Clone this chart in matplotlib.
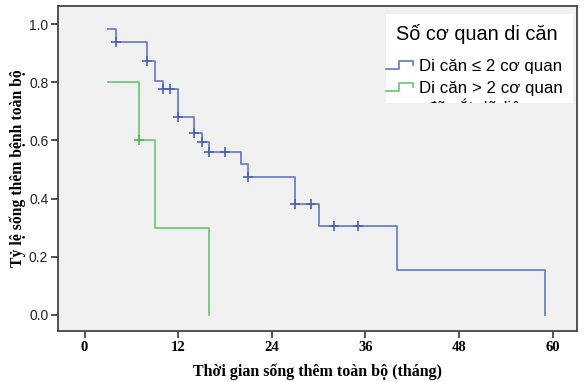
import numpy as np
import matplotlib
matplotlib.use("Agg")
import matplotlib.pyplot as plt
from matplotlib.lines import Line2D
from matplotlib.patches import Rectangle
from matplotlib.transforms import Affine2D

# Kaplan-Meier steps (months, survival proportion)
low_times = [3, 4, 8, 9, 10, 12, 14, 15, 16, 20, 21, 27, 30, 40, 59]
low_surv = [0.982, 0.938, 0.873, 0.804, 0.776, 0.679, 0.624, 0.593, 0.561,
            0.519, 0.475, 0.381, 0.306, 0.153, 0.0]
low_censored = [4, 8, 10, 11, 12, 14, 15, 16, 18, 21, 27, 29, 32, 35]

high_times = [3, 7, 9, 16]
high_surv = [0.8, 0.6, 0.3, 0.0]
high_censored = [7]

legend_title = "Số cơ quan di căn"
group_labels = ["Di căn \u2264 2 cơ quan", "Di căn > 2 cơ quan", "đã cắt dữ liệu"]
x_ticks = [0, 12, 24, 36, 48, 60]
y_ticks = [0.0, 0.2, 0.4, 0.6, 0.8, 1.0]

blue = "#6f80c9"
blue_dark = "#4a5fb8"
green = "#72c87a"
green_dark = "#4fb45a"

W, H = 585, 382
sans = ["Liberation Sans", "DejaVu Sans"]
serif = ["Liberation Serif", "DejaVu Serif"]


def surv_at(times, surv, t):
    i = np.searchsorted(times, t, side="right") - 1
    return surv[i]


fig = plt.figure(figsize=(W / 100, H / 100), dpi=100)
ax = fig.add_axes([58 / W, 1 - 331 / H, 519 / W, 325 / H])
ax.set_facecolor("#f0f0f0")

ax.step(low_times, low_surv, where="post", color=blue, lw=1.3)
ax.step(high_times, high_surv, where="post", color=green, lw=1.3)

ax.plot(low_censored, [surv_at(low_times, low_surv, t) for t in low_censored],
        ls="none", marker="+", ms=6.5, mew=1.2, color=blue_dark)
ax.plot(high_censored, [surv_at(high_times, high_surv, t) for t in high_censored],
        ls="none", marker="+", ms=6.5, mew=1.2, color=green_dark)

ax.set_xlim(-3.4, 63.1)
ax.set_ylim(-0.055, 1.062)
ax.set_xticks(x_ticks)
ax.set_yticks(y_ticks)
ax.set_xticklabels([str(v) for v in x_ticks], fontfamily=serif,
                   fontweight="bold", fontsize=10.5)
ax.set_yticklabels([f"{v:.1f}" for v in y_ticks],
                   fontfamily=["Liberation Sans Narrow", "Liberation Sans", "DejaVu Sans"],
                   fontsize=10, color="#222222")
ax.tick_params(direction="out", length=5, width=1.3, color="#444444", pad=2)

for s in ax.spines.values():
    s.set_color("#444444")
    s.set_linewidth(1.3)

ax.set_xlabel("Thời gian sống thêm toàn bộ (tháng)", fontfamily=serif,
              fontweight="bold", fontsize=11.5, labelpad=7)
ax.set_ylabel("Tỷ lệ sống thêm bệnh toàn bộ", fontfamily=serif,
              fontweight="bold", fontsize=11.3, labelpad=2)

# Legend panel in pixel coordinates measured from the top-left corner
px = Affine2D().scale(1 / W, -1 / H).translate(0, 1) + fig.transFigure
box = Rectangle((386, 14), 187, 89, transform=px, facecolor="white",
                edgecolor="none", zorder=5)
fig.add_artist(box)

fig.text(396, 34, legend_title, transform=px, fontfamily=sans, fontsize=14.3,
         va="center", ha="left", zorder=6)

entry_colors = [blue, green, blue_dark]
entry_y = [66, 88, 108]
for label, col, yc in zip(group_labels, entry_colors, entry_y):
    if yc < 100:
        xs = [386, 399, 399, 413, 413]
        ys = [yc + 3, yc + 3, yc - 5, yc - 5, yc - 1]
        fig.add_artist(Line2D(xs, ys, transform=px, color=col, lw=1.3, zorder=6))
    t = fig.text(427 if yc > 100 else 419, yc, label, transform=px,
                 fontfamily=sans, fontsize=12.2, va="center", ha="left", zorder=6)
    t.set_clip_path(box)

fig.savefig("out.png", dpi=100, facecolor="white")
